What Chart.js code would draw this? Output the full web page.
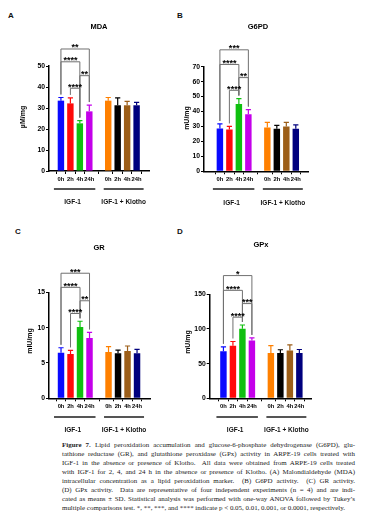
<!DOCTYPE html>
<html>
<head>
<meta charset="utf-8">
<script src="https://cdn.jsdelivr.net/npm/chart.js@4"></script>
<style>
body { margin: 0; background: #fff; width: 366px; height: 526px; position: relative; overflow: hidden; }
canvas { position: absolute; }
.letter { position: absolute; font: bold 8px 'Liberation Sans'; color: #111; line-height: 8px; }
#cap { position: absolute; left: 62px; top: 441px; width: 293px; font: 6.95px 'Liberation Serif'; line-height: 9px; color: #222; }
#cap div { white-space: nowrap; text-align: justify; text-align-last: justify; }
#cap div.last { text-align-last: left; }
</style>
</head>
<body>
<div class="letter" style="left:8px;top:12px">A</div>
<div class="letter" style="left:177px;top:12px">B</div>
<div class="letter" style="left:15px;top:228px">C</div>
<div class="letter" style="left:177px;top:228px">D</div>
<canvas id="cA"></canvas>
<canvas id="cB"></canvas>
<canvas id="cC"></canvas>
<canvas id="cD"></canvas>
<div id="cap">
<div><b>Figure 7.</b> Lipid peroxidation accumulation and glucose-6-phosphate dehydrogenase (G6PD), glu-</div>
<div>tathione reductase (GR), and glutathione peroxidase (GPx) activity in ARPE-19 cells treated with</div>
<div>IGF-1 in the absence or presence of Klotho.&nbsp; All data were obtained from ARPE-19 cells treated</div>
<div>with IGF-1 for 2, 4, and 24 h in the absence or presence of Klotho. (A) Malondialdehyde (MDA)</div>
<div>intracellular concentration as a lipid peroxidation marker.&nbsp; (B) G6PD activity.&nbsp; (C) GR activity.</div>
<div>(D) GPx activity.&nbsp; Data are representative of four independent experiments (n = 4) and are indi-</div>
<div>cated as means ± SD. Statistical analysis was performed with one-way ANOVA followed by Tukey’s</div>
<div class="last">multiple comparisons test. *, **, ***, and **** indicate p &lt; 0.05, 0.01, 0.001, or 0.0001, respectively.</div>
</div>
<script>
var timeLabels = ['0h', '2h', '4h', '24h'];
var groupLabels = ['IGF-1', 'IGF-1 + Klotho'];
var barColors = ['#0a0aff', '#ff0a0a', '#10c010', '#c400ea', '#ff8000', '#000000', '#9c5e18', '#00007e'];
var slots = [0, 1, 2, 3, 5, 6, 7, 8];

var mdaMean = [33.5, 32.2, 22.7, 28.4, 33.5, 31.3, 31.3, 31.3];
var mdaSD = [1.5, 2.6, 1.3, 3.0, 1.5, 3.5, 1.9, 1.4];
var mdaSig = [[0, 3, 58.1, '**'], [0, 2, 52, '****'], [2, 3, 45.4, '**'], [1, 2, 39.4, '****']];

var g6pdMean = [28.7, 28.0, 45.0, 38.2, 29.3, 28.4, 30.0, 28.4];
var g6pdSD = [3.0, 2.0, 3.7, 3.1, 3.4, 2.3, 2.7, 2.7];
var g6pdSig = [[0, 3, 81.3, '***'], [0, 2, 71.5, '****'], [2, 3, 62.7, '**'], [1, 2, 54.2, '****']];

var grMean = [6.45, 6.27, 10.1, 8.53, 6.55, 6.37, 6.7, 6.37];
var grSD = [0.7, 0.5, 0.8, 0.8, 0.75, 0.45, 0.7, 0.55];
var grSig = [[0, 3, 17.7, '***'], [0, 2, 15.7, '****'], [2, 3, 13.8, '**'], [1, 2, 12.0, '****']];

var gpxMean = [68, 75.7, 100.4, 83.3, 65.2, 65.2, 69, 65.2];
var gpxSD = [6.3, 6.2, 5.3, 3.8, 10.8, 4.8, 8, 5.2];
var gpxSig = [[0, 3, 177, '*'], [0, 2, 155.7, '****'], [2, 3, 136.6, '***'], [1, 2, 117, '****']];

Chart.defaults.font.family = 'Liberation Sans';
Chart.defaults.color = '#000';

function makePanel(id, p) {
    var cv = document.getElementById(id);
    cv.width = p.w; cv.height = p.h;
    cv.style.left = p.ox + 'px'; cv.style.top = p.oy + 'px';
    var L = p.left - p.ox, R = p.right - p.ox, T = p.top - p.oy, B = p.bottom - p.oy;
    var pts = p.mean.map(function (v, i) { return { x: slots[i], y: v }; });

    // error bars, brackets and labels drawn over the chart
    var deco = {
        id: 'deco' + id,
        afterDraw: function (chart) {
            var ctx = chart.ctx, xs = chart.scales.x, ys = chart.scales.y;
            var ox = p.ox, oy = p.oy;
            var errTop = [];
            ctx.save();
            p.mean.forEach(function (m, i) {
                var x = xs.getPixelForValue(slots[i]);
                var y1 = ys.getPixelForValue(m), y2 = ys.getPixelForValue(m + p.sd[i]);
                errTop.push(y2);
                ctx.strokeStyle = barColors[i];
                ctx.lineWidth = 1.2;
                ctx.beginPath();
                ctx.moveTo(x, y1); ctx.lineTo(x, y2);
                ctx.moveTo(x - 2.6, y2); ctx.lineTo(x + 2.6, y2);
                ctx.stroke();
            });
            p.sig.forEach(function (s) {
                var xa = xs.getPixelForValue(slots[s[0]]), xb = xs.getPixelForValue(slots[s[1]]);
                var yb = ys.getPixelForValue(s[2]);
                ctx.strokeStyle = '#707070';
                ctx.lineWidth = 1;
                ctx.beginPath();
                ctx.moveTo(xa, errTop[s[0]] - 3); ctx.lineTo(xa, yb);
                ctx.lineTo(xb, yb); ctx.lineTo(xb, errTop[s[1]] - 3);
                ctx.stroke();
                ctx.fillStyle = '#000';
                ctx.font = 'bold 9px Liberation Sans';
                ctx.textAlign = 'center';
                ctx.textBaseline = 'alphabetic';
                ctx.fillText(s[3], (xa + xb) / 2, yb + 1.5);
            });
            ctx.fillStyle = '#000';
            ctx.textAlign = 'center';
            ctx.textBaseline = 'middle';
            ctx.font = 'bold 7.5px Liberation Sans';
            ctx.fillText(p.title, p.tx - ox, p.ty - oy);
            ctx.save();
            ctx.translate(p.lx - ox, p.ly - oy);
            ctx.rotate(-Math.PI / 2);
            ctx.font = 'bold 7px Liberation Sans';
            ctx.fillText(p.unit, 0, 0);
            ctx.restore();
            var spans = [[slots[0], slots[3], -7, 6], [slots[4], slots[7], -4.5, 7]];
            spans.forEach(function (g, k) {
                var a = xs.getPixelForValue(g[0]) + g[2], b = xs.getPixelForValue(g[1]) + g[3];
                ctx.strokeStyle = '#555';
                ctx.lineWidth = 2;
                ctx.beginPath();
                ctx.moveTo(a, p.uy - oy); ctx.lineTo(b, p.uy - oy);
                ctx.stroke();
                ctx.font = 'bold 6.5px Liberation Sans';
                ctx.fillStyle = '#111';
                ctx.fillText(groupLabels[k], (a + b) / 2 - (k === 0 ? 2 : 0), p.gy - oy);
            });
            ctx.restore();
        }
    };

    new Chart(cv, {
        type: 'bar',
        data: {
            datasets: [{
                data: pts,
                backgroundColor: barColors,
                borderWidth: 0,
                barPercentage: 0.68,
                categoryPercentage: 1
            }]
        },
        plugins: [deco],
        options: {
            responsive: false,
            animation: false,
            devicePixelRatio: 1,
            layout: { padding: { left: 0, top: T, right: p.w - R, bottom: 0 } },
            plugins: { legend: { display: false }, tooltip: { enabled: false } },
            scales: {
                x: {
                    type: 'linear',
                    min: p.xMin,
                    max: p.xMax,
                    afterFit: function (s) { s.height = p.h - B; },
                    afterBuildTicks: function (s) { s.ticks = slots.map(function (v) { return { value: v }; }); },
                    ticks: {
                        autoSkip: false,
                        maxRotation: 0,
                        padding: 1.5,
                        font: { size: 5.8, weight: 'bold' },
                        callback: function (v) { return v < 4 ? timeLabels[v] : timeLabels[v - 5]; }
                    },
                    grid: { drawOnChartArea: false, drawTicks: true, tickLength: 3, color: '#000', lineWidth: 1 },
                    border: { display: true, color: '#000', width: 1.5 }
                },
                y: {
                    min: 0,
                    max: p.yMax,
                    afterFit: function (s) { s.width = L; },
                    ticks: { stepSize: p.step, padding: 1, font: { size: 6.8, weight: 'bold' } },
                    grid: { drawOnChartArea: false, drawTicks: true, tickLength: 3, color: '#000', lineWidth: 1 },
                    border: { display: true, color: '#000', width: 1.5 }
                }
            }
        }
    });
}

makePanel('cA', {
    ox: 0, oy: 0, w: 183, h: 215,
    left: 49, right: 149, top: 66, bottom: 171,
    xMin: -0.6, xMax: 8.65, yMax: 50, step: 10,
    mean: mdaMean, sd: mdaSD, sig: mdaSig,
    title: 'MDA', tx: 99, ty: 27, unit: 'µM/mg', lx: 23, ly: 117, uy: 189, gy: 202
});
makePanel('cB', {
    ox: 175, oy: 0, w: 191, h: 215,
    left: 204, right: 308, top: 66.7, bottom: 171.3,
    xMin: -0.99, xMax: 8.6, yMax: 70, step: 10,
    mean: g6pdMean, sd: g6pdSD, sig: g6pdSig,
    title: 'G6PD', tx: 258, ty: 27, unit: 'mU/mg', lx: 187, ly: 118, uy: 189, gy: 203
});
makePanel('cC', {
    ox: 0, oy: 225, w: 183, h: 215,
    left: 49, right: 150, top: 292.3, bottom: 398.3,
    xMin: -0.6, xMax: 8.7, yMax: 15, step: 5,
    mean: grMean, sd: grSD, sig: grSig,
    title: 'GR', tx: 99, ty: 248, unit: 'mIU/mg', lx: 30, ly: 341, uy: 417, gy: 430.7
});
makePanel('cD', {
    ox: 175, oy: 225, w: 191, h: 215,
    left: 209.7, right: 311, top: 294.3, bottom: 398.3,
    xMin: -0.78, xMax: 8.56, yMax: 150, step: 50,
    mean: gpxMean, sd: gpxSD, sig: gpxSig,
    title: 'GPx', tx: 261, ty: 245, unit: 'mU/mg', lx: 188, ly: 342, uy: 417, gy: 430.7
});
</script>
</body>
</html>
